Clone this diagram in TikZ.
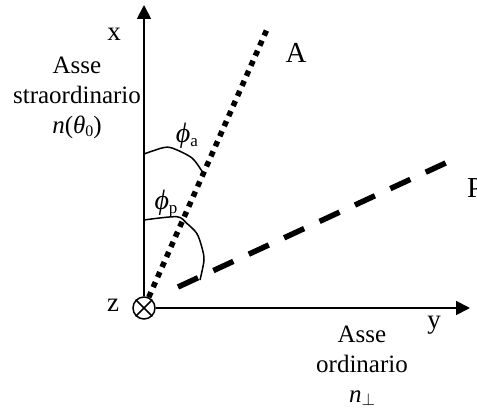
\documentclass[tikz,border=0pt]{standalone}
\usepackage{fontspec}
\setmainfont{Liberation Serif}
\usetikzlibrary{arrows.meta}
\begin{document}
\begin{tikzpicture}[x=1pt,y=-1pt,
  axisline/.style={line width=1.8pt,-{Triangle[length=14pt,width=14pt]}},
  dotline/.style={line width=5.5pt,dash pattern=on 5.5pt off 5.5pt},
  dashline/.style={line width=5.5pt,dash pattern=on 22pt off 17pt},
  anglecurve/.style={line width=1.5pt},
  lbl/.style={inner sep=0pt,font=\fontsize{25}{30}\selectfont,align=center},
  axlbl/.style={inner sep=0pt,font=\fontsize{27}{30}\selectfont},
  biglbl/.style={inner sep=0pt,font=\fontsize{29}{34}\selectfont}]
\useasboundingbox (0,0) rectangle (477,411);
% origin
\node[draw,circle,line width=1.5pt,minimum size=22pt,inner sep=0pt] (O) at (144,308) {};
\draw[line width=1.5pt] (O.north west) -- (O.south east) (O.north east) -- (O.south west);
\coordinate (xtip) at (144,5);
\coordinate (ytip) at (470,308);
\coordinate (Aend) at (268,27);
\coordinate (Pstart) at (178,287);
\coordinate (Pend) at (450,161);
\draw[axisline] (O.north) -- (xtip);
\draw[axisline] (O.east) -- (ytip);
\draw[dotline] (O) -- (Aend);
\draw[dashline] (Pstart) -- (Pend);
% angle curves
\draw[anglecurve] plot[smooth,tension=0.5] coordinates {(144,154) (162,148) (172,148) (192,158) (203,173)};
\draw[anglecurve] plot[smooth,tension=0.5] coordinates {(144,220) (176.7,216.7) (186.7,223.3) (196.7,233.3) (201.7,246.7) (204,260) (200,280)};
% labels
\node[axlbl] (lx) at (114,34) {x};
\node[axlbl] (lz) at (113,305) {z};
\node[axlbl] (ly) at (434,325) {y};
\node[biglbl] (lA) at (296,53) {A};
\node[biglbl,anchor=west] (lP) at (467,188) {P};
\node[lbl] (lext) at (77,98) {Asse\\straordinario\\\textit{n}(\textit{θ}\raisebox{-0.25ex}{\fontsize{16}{16}\selectfont 0})};
\node[lbl] (lord) at (362,366) {Asse\\ordinario\\\textit{n}\raisebox{-0.3ex}{\fontsize{16}{16}\selectfont$\perp$}};
\node[lbl,font=\fontsize{28}{30}\selectfont] (lpa) at (187,136) {\textit{ϕ}\raisebox{-0.3ex}{\fontsize{17}{17}\selectfont a}};
\node[lbl,font=\fontsize{28}{30}\selectfont] (lpp) at (166,204) {\textit{ϕ}\raisebox{-0.3ex}{\fontsize{17}{17}\selectfont p}};
\end{tikzpicture}
\end{document}
